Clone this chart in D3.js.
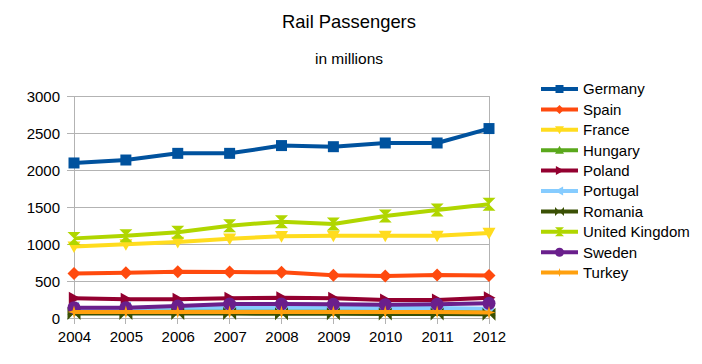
<!DOCTYPE html>
<html><head><meta charset="utf-8">
<script src="https://cdn.jsdelivr.net/npm/d3@7/dist/d3.min.js"></script>
<style>body{margin:0;background:#fff}svg{display:block;font-family:"Liberation Sans",Arial,sans-serif}</style>
</head><body><svg id="c" width="702" height="364"></svg>
<script>
const years = ["2004","2005","2006","2007","2008","2009","2010","2011","2012"];
const yTicks = [0,500,1000,1500,2000,2500,3000];
const germany  = [2095,2135,2225,2225,2330,2315,2365,2365,2560];
const spain    = [600,613,625,620,617,578,568,580,575];
const france   = [965,995,1027,1070,1105,1110,1110,1110,1150];
const hungary  = [110,110,112,112,112,110,108,108,105];
const poland   = [266,253,253,266,275,266,243,243,275];
const portugal = [135,135,138,140,140,138,135,135,125];
const romania  = [62,62,62,60,58,56,55,55,52];
const uk       = [1076,1113,1158,1248,1302,1270,1378,1459,1536];
const sweden   = [140,140,162,189,189,185,180,185,198];
const turkey   = [82,82,82,82,80,80,80,80,75];
const names  = ["Germany","Spain","France","Hungary","Poland","Portugal","Romania","United Kingdom","Sweden","Turkey"];
const values = [germany,spain,france,hungary,poland,portugal,romania,uk,sweden,turkey];
const colors = ["#00529e","#ff4a0e","#ffdc1e","#5aa81c","#930030","#86ccff","#3a5004","#b0d600","#6a1f8c","#ffa00e"];
const shapes = ["square","diamond","tdown","tup","tright","tleft","bowtie","hourglass","circle","star"];

function shapePath(s, r){
  switch(s){
    case "square": return `M${-r},${-r}h${2*r}v${2*r}h${-2*r}Z`;
    case "diamond": return `M0,${-r}L${r},0L0,${r}L${-r},0Z`;
    case "tdown": return `M${-r},${-r*0.8}L${r},${-r*0.8}L0,${r}Z`;
    case "tup": return `M${-r},${r*0.8}L${r},${r*0.8}L0,${-r}Z`;
    case "tright": return `M${-r*0.8},${-r}L${r},0L${-r*0.8},${r}Z`;
    case "tleft": return `M${r*0.8},${-r}L${-r},0L${r*0.8},${r}Z`;
    case "bowtie": return `M${-r},${-r}L0,0L${-r},${r}ZM${r},${-r}L0,0L${r},${r}Z`;
    case "hourglass": return `M${-r},${-r}L${r},${-r}L0,0ZM${-r},${r}L${r},${r}L0,0Z`;
    case "circle": return `M${r},0A${r},${r} 0 1,1 ${-r},0A${r},${r} 0 1,1 ${r},0Z`;
    case "star": { const k=r*0.22; return `M0,${-r}L${k},${-k}L${r},0L${k},${k}L0,${r}L${-k},${k}L${-r},0L${-k},${-k}Z`; }
  }
}

const svg = d3.select("#c");
const L=74, R=489, T=96, B=318;
const x = d3.scalePoint().domain(years).range([L,R]);
const y = d3.scaleLinear().domain([0,3000]).range([B,T]);

svg.append("text").attr("x",349).attr("y",28).attr("text-anchor","middle").attr("font-size",18.4).attr("fill","#000").text("Rail Passengers");
svg.append("text").attr("x",349).attr("y",64).attr("text-anchor","middle").attr("font-size",15.5).attr("fill","#000").text("in millions");

const g = svg.append("g");
g.selectAll("line.h").data(yTicks).join("line")
  .attr("x1",L-7).attr("x2",R).attr("y1",d=>y(d)).attr("y2",d=>y(d))
  .attr("stroke","#b3b3b3").attr("stroke-width",1).attr("shape-rendering","crispEdges");
g.append("line").attr("x1",L).attr("x2",L).attr("y1",T).attr("y2",B).attr("stroke","#b3b3b3").attr("shape-rendering","crispEdges");
g.append("line").attr("x1",R).attr("x2",R).attr("y1",T).attr("y2",B).attr("stroke","#b3b3b3").attr("shape-rendering","crispEdges");
g.selectAll("line.v").data(years).join("line")
  .attr("x1",d=>x(d)).attr("x2",d=>x(d)).attr("y1",B).attr("y2",B+6)
  .attr("stroke","#b3b3b3").attr("shape-rendering","crispEdges");

const yAxis = d3.axisLeft(y).tickValues(yTicks).tickSize(0).tickPadding(0).tickFormat(d3.format("d"));
const ya = svg.append("g").attr("transform",`translate(${L-14},0)`).call(yAxis);
ya.select(".domain").remove();
ya.selectAll("text").attr("font-size",15).attr("fill","#000").attr("font-family","Liberation Sans, Arial, sans-serif").attr("dy","0.36em");
const xAxis = d3.axisBottom(x).tickSize(0).tickPadding(0);
const xa = svg.append("g").attr("transform",`translate(0,${B+10})`).call(xAxis);
xa.select(".domain").remove();
xa.selectAll("text").attr("font-size",15).attr("fill","#000").attr("font-family","Liberation Sans, Arial, sans-serif").attr("dy","0.95em");

const line = d3.line().x((d,i)=>x(years[i])).y(d=>y(d));
values.forEach((vals,si)=>{
  const sg = svg.append("g");
  sg.append("path").attr("d",line(vals)).attr("fill","none").attr("stroke",colors[si]).attr("stroke-width",4).attr("stroke-linejoin","round");
  sg.selectAll("path.m").data(vals).join("path").attr("class","m")
    .attr("transform",(d,i)=>`translate(${x(years[i])},${y(d)})`)
    .attr("d",shapePath(shapes[si],shapes[si]==="square"?5.5:6.5)).attr("fill",colors[si]);
});

const lg = svg.append("g");
names.forEach((n,i)=>{
  const yy = 89 + i*20.4;
  lg.append("line").attr("x1",541).attr("x2",578).attr("y1",yy).attr("y2",yy).attr("stroke",colors[i]).attr("stroke-width",4);
  lg.append("path").attr("transform",`translate(559.5,${yy})`).attr("d",shapePath(shapes[i],shapes[i]==="square"?4:4.5)).attr("fill",colors[i]);
  lg.append("text").attr("x",583).attr("y",yy).attr("dy","0.36em").attr("font-size",15).attr("fill","#000").text(n);
});
</script></body></html>
